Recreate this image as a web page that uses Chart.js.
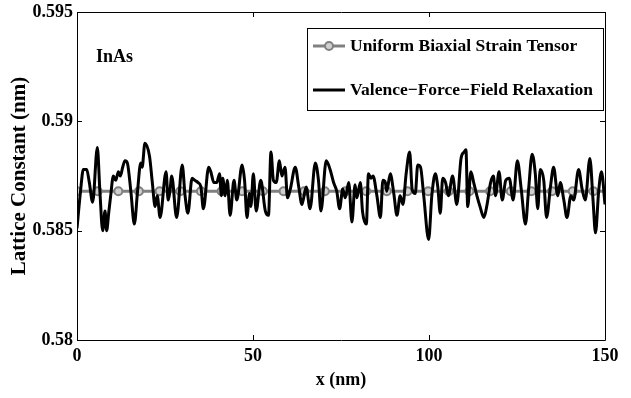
<!DOCTYPE html>
<html>
<head>
<meta charset="utf-8">
<script src="https://cdn.jsdelivr.net/npm/chart.js@4/dist/chart.umd.min.js"></script>
<style>
  body { margin: 0; background: #fff; }
  canvas { display: block; }
</style>
</head>
<body>
<canvas id="latticeChart" width="631" height="398"></canvas>
<script>
// tick values / labels
var xTicks = [0, 50, 100, 150];
var yTicks = [0.58, 0.585, 0.59, 0.595];
var yTickLabels = ["0.58", "0.585", "0.59", "0.595"];

// uniform biaxial strain (constant), markers every 10 cells
var greyX = [0, 5.87, 11.74, 17.6, 23.47, 29.34, 35.21, 41.08, 46.94, 52.81, 58.68, 64.55, 70.42,
    76.28, 82.15, 88.02, 93.89, 99.76, 105.62, 111.49, 117.36, 123.23, 129.1, 134.96, 140.83, 146.7, 150];
var greyY = [0.5868, 0.5868, 0.5868, 0.5868, 0.5868, 0.5868, 0.5868, 0.5868, 0.5868, 0.5868,
    0.5868, 0.5868, 0.5868, 0.5868, 0.5868, 0.5868, 0.5868, 0.5868, 0.5868, 0.5868,
    0.5868, 0.5868, 0.5868, 0.5868, 0.5868, 0.5868, 0.5868];

// valence force field relaxation
var vffX = [0, 1.0, 1.8, 2.75, 3.5, 4.45, 5.78, 6.5, 7.3, 7.96, 8.43, 9.0, 9.57, 10.33, 11.0, 11.75,
    12.3, 12.98, 13.65, 14.3, 15.3, 16.3, 17.2, 18.1, 18.5, 19.3, 20.6, 21.4, 22.2, 22.8, 23.6,
    25.3, 25.9, 26.4, 26.9, 28.3, 29.9, 30.7, 31.5, 32.7, 33.5, 34.4, 35.2, 35.9, 37.4, 38.0, 38.9,
    39.7, 40.5, 41.0, 41.4, 42.1, 42.7, 43.5, 44.6, 45.4, 46.9, 47.6, 48.3, 49.0, 49.4, 50.1, 50.9,
    52.2, 53.5, 54.4, 55.1, 55.8, 56.6, 57.5, 58.2, 59.1, 59.8, 60.6, 62.0, 63.0, 63.9, 65.1, 66.2,
    67.7, 68.6, 69.3, 70.8, 71.9, 72.9, 73.8, 74.6, 75.5, 76.2, 77.2, 78.1, 79.0, 79.5, 80.5, 81.1,
    82.2, 82.8, 83.5, 84.1, 85.2, 86.2, 86.9, 87.6, 88.0, 89.0, 90.0, 90.9, 91.8, 92.6, 93.5, 94.5,
    95.2, 96.1, 96.8, 97.6, 98.5, 99.9, 100.8, 101.8, 102.5, 103.2, 103.9, 104.7, 105.5, 106.7,
    107.9, 109.1, 110.0, 110.5, 111.0, 111.9, 112.7, 113.6, 114.5, 115.6, 116.5, 117.5, 118.3,
    118.9, 119.9, 120.8, 121.8, 122.8, 123.9, 125.1, 126.2, 127.4, 128.3, 129.3, 130.2, 130.9,
    131.6, 132.6, 133.4, 134.5, 135.4, 136.6, 137.3, 138.3, 139.2, 140.3, 141.1, 142.5, 143.5,
    144.4, 145.7, 146.6, 147.3, 148.2, 149.0, 150];
var vffY = [0.5851, 0.5868, 0.5878, 0.5878, 0.5872, 0.5863, 0.5888, 0.5868, 0.5850, 0.5859, 0.5850,
    0.5858, 0.5866, 0.5875, 0.5873, 0.5877, 0.5875, 0.5879, 0.5882, 0.5881, 0.5868, 0.5853, 0.5868,
    0.5881, 0.5879, 0.5890, 0.5884, 0.5872, 0.5861, 0.5866, 0.5856,
    0.5877, 0.5864, 0.5868, 0.5875, 0.5856, 0.5880, 0.5866, 0.5858, 0.5874, 0.5873, 0.5872, 0.5870,
    0.5860, 0.5879, 0.5877, 0.5872,
    0.5872, 0.5876, 0.5866, 0.5874, 0.5866, 0.5873, 0.5857, 0.5873, 0.5864, 0.5880, 0.5873, 0.5856,
    0.5867, 0.5861, 0.5876, 0.5859,
    0.5873, 0.5859, 0.5857, 0.5886, 0.5873, 0.5872, 0.5882, 0.5875, 0.5879, 0.5865, 0.5869, 0.5879,
    0.5870, 0.5862, 0.5870, 0.5860,
    0.5881, 0.5873, 0.5859, 0.5882, 0.5878, 0.5872, 0.5868, 0.5860, 0.5869, 0.5865, 0.5872, 0.5854,
    0.5871, 0.5865, 0.5872, 0.5859,
    0.5853, 0.5876, 0.5874, 0.5875, 0.5866, 0.5856, 0.5873, 0.5872, 0.5868, 0.5876, 0.5867, 0.5857,
    0.5866, 0.5862, 0.5876, 0.5886,
    0.5869, 0.5867, 0.5880, 0.5879, 0.5866, 0.5846, 0.5866, 0.5876, 0.5870, 0.5858, 0.5874, 0.5872,
    0.5866, 0.5875,
    0.5862, 0.5883, 0.5886, 0.5887, 0.5861, 0.5877, 0.5872, 0.5866, 0.5861, 0.5856, 0.5862, 0.5872,
    0.5875,
    0.5866, 0.5877, 0.5864, 0.5873, 0.5874, 0.5864, 0.5882, 0.5869, 0.5853, 0.5869, 0.5885, 0.5876,
    0.5860,
    0.5878, 0.5873, 0.5856, 0.5870, 0.5879, 0.5866, 0.5872, 0.5864, 0.5856, 0.5866, 0.5864, 0.5878,
    0.5869,
    0.5864, 0.5883, 0.5864, 0.5849, 0.5868, 0.5877, 0.5862];

var serif = "'Liberation Serif', 'Times New Roman', serif";
var tickFont = { family: serif, size: 18, weight: 'bold' };
var xTitleFont = { family: serif, size: 18, weight: 'bold' };
var yTitleFont = { family: serif, size: 21, weight: 'bold' };

function toPoints(xs, ys) {
    var pts = [];
    for (var i = 0; i < xs.length; i++) {
        pts.push({ x: xs[i], y: ys[i] });
    }
    return pts;
}

// box, inward ticks on all four sides, the InAs note and the legend
var matlabFrame = {
    id: 'matlabFrame',
    afterDraw: function (chart) {
        var ctx = chart.ctx;
        var a = chart.chartArea;
        var sx = chart.scales.x;
        var sy = chart.scales.y;
        var tl = 5;
        ctx.save();
        ctx.strokeStyle = '#000';
        ctx.lineWidth = 1;
        ctx.beginPath();
        ctx.rect(Math.round(a.left) + 0.5, Math.round(a.top) + 0.5,
            Math.round(a.right - a.left), Math.round(a.bottom - a.top));
        for (var i = 0; i < xTicks.length; i++) {
            var px = Math.round(sx.getPixelForValue(xTicks[i])) + 0.5;
            ctx.moveTo(px, a.bottom); ctx.lineTo(px, a.bottom - tl);
            ctx.moveTo(px, a.top); ctx.lineTo(px, a.top + tl);
        }
        for (var j = 0; j < yTicks.length; j++) {
            var py = Math.round(sy.getPixelForValue(yTicks[j])) + 0.5;
            ctx.moveTo(a.left, py); ctx.lineTo(a.left + tl, py);
            ctx.moveTo(a.right, py); ctx.lineTo(a.right - tl, py);
        }
        ctx.stroke();

        ctx.fillStyle = '#000';
        ctx.font = 'bold 18px ' + serif;
        ctx.textBaseline = 'middle';
        ctx.textAlign = 'left';
        ctx.fillText('InAs', 96, 57);

        // legend
        var lx = 307, ly = 28, lw = 296, lh = 82;
        ctx.fillStyle = '#fff';
        ctx.fillRect(lx, ly, lw, lh);
        ctx.strokeRect(lx + 0.5, ly + 0.5, lw, lh);

        ctx.lineWidth = 3;
        ctx.strokeStyle = '#808080';
        ctx.beginPath();
        ctx.moveTo(313, 46); ctx.lineTo(345, 46);
        ctx.stroke();
        ctx.lineWidth = 2;
        ctx.fillStyle = '#d0d0d0';
        ctx.beginPath();
        ctx.arc(329, 46, 4, 0, Math.PI * 2);
        ctx.fill();
        ctx.stroke();

        ctx.lineWidth = 3;
        ctx.strokeStyle = '#000';
        ctx.beginPath();
        ctx.moveTo(313, 90); ctx.lineTo(345, 90);
        ctx.stroke();

        ctx.fillStyle = '#000';
        ctx.font = 'bold 17.5px ' + serif;
        ctx.fillText('Uniform Biaxial Strain Tensor', 350, 46);
        ctx.fillText('Valence\u2212Force\u2212Field Relaxation', 350, 90);
        ctx.restore();
    }
};

var ctxL = document.getElementById('latticeChart').getContext('2d');
new Chart(ctxL, {
    type: 'scatter',
    data: {
        datasets: [{
            label: 'Uniform Biaxial Strain Tensor',
            data: toPoints(greyX, greyY),
            showLine: true,
            borderColor: '#808080',
            borderWidth: 3,
            pointRadius: function (c) { return c.dataIndex < greyX.length - 1 ? 4 : 0; },
            pointBorderWidth: 2,
            pointBorderColor: '#808080',
            pointBackgroundColor: '#d0d0d0',
            order: 2
        }, {
            label: 'Valence-Force-Field Relaxation',
            data: toPoints(vffX, vffY),
            showLine: true,
            borderColor: '#000',
            borderWidth: 3,
            borderJoinStyle: 'round',
            pointRadius: 0,
            cubicInterpolationMode: 'monotone',
            order: 1
        }]
    },
    options: {
        responsive: false,
        animation: false,
        layout: { padding: { top: 12, right: 26, bottom: 0, left: 0 } },
        plugins: {
            legend: { display: false },
            tooltip: { enabled: false }
        },
        scales: {
            x: {
                type: 'linear',
                min: 0,
                max: 150,
                grid: { display: false, drawTicks: false },
                border: { display: false },
                afterBuildTicks: function (s) {
                    s.ticks = xTicks.map(function (v) { return { value: v }; });
                },
                afterFit: function (s) {
                    s.height = 58;
                    s.paddingLeft = 0;
                    s.paddingRight = 0;
                },
                ticks: {
                    color: '#000',
                    font: tickFont,
                    padding: 6,
                    maxRotation: 0,
                    callback: function (v) { return String(v); }
                },
                title: {
                    display: true,
                    text: 'x (nm)',
                    color: '#000',
                    font: xTitleFont,
                    padding: { top: 0, bottom: 7 }
                }
            },
            y: {
                type: 'linear',
                min: 0.58,
                max: 0.595,
                grid: { display: false, drawTicks: false },
                border: { display: false },
                afterBuildTicks: function (s) {
                    s.ticks = yTicks.map(function (v) { return { value: v }; });
                },
                afterFit: function (s) {
                    s.width = 77;
                    s.paddingTop = 0;
                    s.paddingBottom = 0;
                },
                ticks: {
                    color: '#000',
                    font: tickFont,
                    padding: 4,
                    callback: function (v, i) { return yTickLabels[i]; }
                },
                title: {
                    display: true,
                    text: 'Lattice Constant (nm)',
                    color: '#000',
                    font: yTitleFont,
                    padding: { top: 7, bottom: 0 }
                }
            }
        }
    },
    plugins: [matlabFrame]
});
</script>
</body>
</html>
